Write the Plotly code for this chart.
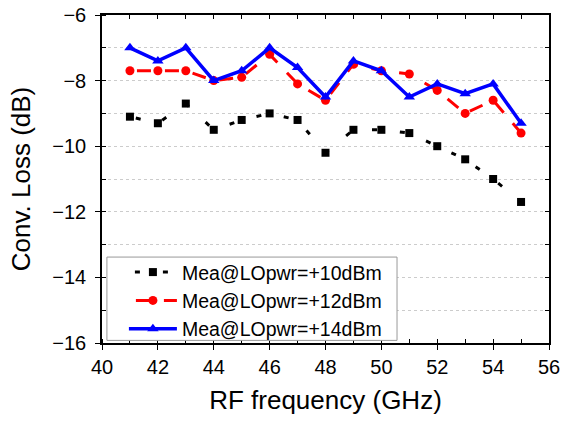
import plotly.graph_objects as go

freq = [41, 42, 43, 44, 45, 46, 47, 48, 49, 50, 51, 52, 53, 54, 55]
loss_10 = [-9.1, -9.3, -8.7, -9.5, -9.2, -9.0, -9.2, -10.2, -9.5, -9.5, -9.6, -10.0, -10.4, -11.0, -11.7]
loss_12 = [-7.7, -7.7, -7.7, -8.0, -7.9, -7.2, -8.1, -8.6, -7.5, -7.7, -7.8, -8.3, -9.0, -8.6, -9.6]
loss_14 = [-7.0, -7.4, -7.0, -8.0, -7.7, -7.0, -7.6, -8.5, -7.4, -7.7, -8.5, -8.1, -8.4, -8.1, -9.3]
names = ["Mea@LOpwr=+10dBm", "Mea@LOpwr=+12dBm", "Mea@LOpwr=+14dBm"]

fig = go.Figure()
fig.add_trace(go.Scatter(x=freq, y=loss_10, name=names[0], mode="lines+markers",
                         line=dict(color="black", width=3, dash="0px,6px,5px,17px"),
                         marker=dict(symbol="square", size=8, color="black")))
fig.add_trace(go.Scatter(x=freq, y=loss_12, name=names[1], mode="lines+markers",
                         line=dict(color="red", width=3, dash="0px,7px,14px,7px"),
                         marker=dict(symbol="circle", size=9, color="red")))
fig.add_trace(go.Scatter(x=freq, y=loss_14, name=names[2], mode="lines+markers",
                         line=dict(color="blue", width=3.5),
                         marker=dict(symbol="triangle-up", size=10, color="blue")))

font = "Arial, Liberation Sans, sans-serif"
fig.update_layout(
    width=563, height=421,
    margin=dict(l=102, r=14, t=15, b=78),
    paper_bgcolor="white", plot_bgcolor="white",
    font=dict(family=font, color="black", size=20),
    showlegend=True,
    legend=dict(x=0.049, y=-0.018, xanchor="left", yanchor="bottom",
                bgcolor="rgba(0,0,0,0)", borderwidth=0,
                font=dict(size=19.5), tracegroupgap=0, itemwidth=48),
    xaxis=dict(range=[40, 56], dtick=2, tick0=40, ticks="outside", ticklen=5,
               tickcolor="black", linecolor="black", linewidth=1.5, showgrid=False,
               zeroline=False, automargin=False,
               minor=dict(dtick=1, ticks="inside", ticklen=4, tickcolor="black"),
               title=dict(text="RF frequency (GHz)", font=dict(size=26), standoff=14),
               tickfont=dict(size=20)),
    yaxis=dict(range=[-16, -6], dtick=2, tick0=-16, ticks="outside", ticklen=5,
               tickcolor="black", linecolor="black", linewidth=1.5,
               showgrid=True, gridcolor="#cccccc", griddash="dot", gridwidth=1,
               zeroline=False, automargin=False, ticklabelstandoff=5,
               minor=dict(dtick=1, ticks="inside", ticklen=4, tickcolor="black",
                          showgrid=True, gridcolor="#cccccc", griddash="dot"),
               title=dict(text="Conv. Loss (dB)", font=dict(size=26), standoff=14),
               tickfont=dict(size=20)),
    xaxis2=dict(range=[40, 56], overlaying="x", side="top", dtick=1, ticks="inside",
                ticklen=4, tickcolor="black", showticklabels=False, showline=True,
                linecolor="black", linewidth=1.5, showgrid=False, zeroline=False,
                automargin=False),
    yaxis2=dict(range=[-16, -6], overlaying="y", side="right", dtick=1, ticks="inside",
                ticklen=4, tickcolor="black", showticklabels=False, showline=True,
                linecolor="black", linewidth=1.5, showgrid=False, zeroline=False,
                automargin=False),
    shapes=[dict(type="rect", xref="paper", yref="paper", x0=0.011, x1=0.66,
                 y0=0.008, y1=0.262, line=dict(color="#999999", width=1),
                 fillcolor="white", layer="above")],
)
fig.add_trace(go.Scatter(x=[40], y=[-16], xaxis="x2", yaxis="y2", showlegend=False,
                         mode="markers", marker=dict(opacity=0), hoverinfo="skip"))

fig.write_html("out.html", config={"displayModeBar": False},
               post_script="document.body.style.margin='0px';")
